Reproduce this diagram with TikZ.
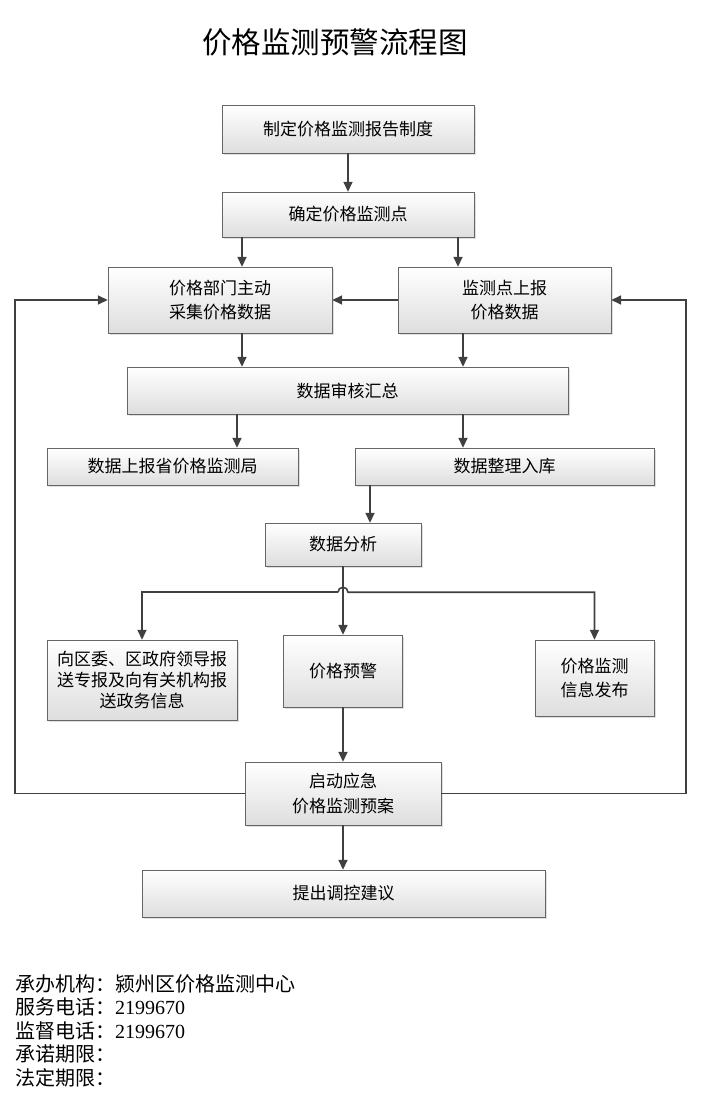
\documentclass[tikz,border=0pt]{standalone}
\usepackage{fontspec}
\setmainfont{Liberation Serif}
\newfontfamily\cjk{Noto Sans CJK SC}
\usepackage{tikz}
\usetikzlibrary{positioning,arrows.meta,shadows,calc}

\begin{document}
\begin{tikzpicture}[
    x=1pt, y=-1pt,
    flow_box/.style={draw=black!60, top color=white, bottom color=black!13, inner sep=0pt,
        align=center, font=\cjk\fontsize{17}{24.5}\selectfont,
        drop shadow={shadow xshift=1.5pt, shadow yshift=-1.5pt, opacity=0.25}},
    arrow/.style={-{Triangle[length=10pt,width=9pt]}, line width=1.6pt, draw=black!75}
]
\useasboundingbox (0,0) rectangle (702,1098);

% Title
\node (title) at (335,42) {\cjk\fontsize{29.5}{31}\selectfont 价格监测预警流程图};

% Nodes
\node (plan) [flow_box, minimum width=252pt, minimum height=48pt] at (348,129) {制定价格监测报告制度};
\node (point) [flow_box, minimum width=252pt, minimum height=45pt] at (348,214.5) {确定价格监测点};
\node (collect) [flow_box, minimum width=224pt, minimum height=66pt] at (220,300) {价格部门主动\\采集价格数据};
\node (report) [flow_box, minimum width=213pt, minimum height=66pt] at (504.5,300) {监测点上报\\价格数据};
\node (audit) [flow_box, minimum width=441pt, minimum height=47pt] at (347.5,390.5) {数据审核汇总};
\node (upload) [flow_box, minimum width=251pt, minimum height=37pt] at (172.5,466.5) {数据上报省价格监测局};
\node (store) [flow_box, minimum width=299pt, minimum height=37pt] at (504.5,466.5) {数据整理入库};
\node (analysis) [flow_box, minimum width=156pt, minimum height=43pt] at (343,544.5) {数据分析};
\node (inform) [flow_box, minimum width=190pt, minimum height=80pt, font=\cjk\fontsize{17}{21}\selectfont] at (142,680) {向区委、区政府领导报\\送专报及向有关机构报\\送政务信息};
\node (warn) [flow_box, minimum width=119pt, minimum height=72pt] at (343,671) {价格预警};
\node (publish) [flow_box, minimum width=119pt, minimum height=76pt] at (594.5,678) {价格监测\\信息发布};
\node (emerg) [flow_box, minimum width=196pt, minimum height=63pt] at (343,793.5) {启动应急\\价格监测预案};
\node (advise) [flow_box, minimum width=403pt, minimum height=47pt] at (343.5,893.5) {提出调控建议};

% Footer
\node (info) [anchor=north west, align=left, inner sep=0pt, font=\cjk\fontsize{20}{23.5}\selectfont] at (15,974)
  {承办机构：颍州区价格监测中心\\服务电话：{\rmfamily 2199670}\\监督电话：{\rmfamily 2199670}\\承诺期限：\\法定期限：};

% Helper coordinates
\coordinate (lbus) at (15,0);
\coordinate (rbus) at (686,0);
\coordinate (fork) at ([yshift=-26pt]analysis.south);

% Connections
\draw [arrow] (plan.south) -- (point.north);
\draw [arrow] ([xshift=22pt]collect.north |- point.south) -- ([xshift=22pt]collect.north);
\draw [arrow] ([xshift=-46.5pt]report.north |- point.south) -- ([xshift=-46.5pt]report.north);
\draw [arrow] (report.west) -- (collect.east);
\draw [arrow] ([xshift=22pt]collect.south) -- ([xshift=22pt]collect.south |- audit.north);
\draw [arrow] ([xshift=-41.5pt]report.south) -- ([xshift=-41.5pt]report.south |- audit.north);
\draw [arrow] ([xshift=64.5pt]upload.north |- audit.south) -- ([xshift=64.5pt]upload.north);
\draw [arrow] ([xshift=-41.5pt]store.north |- audit.south) -- ([xshift=-41.5pt]store.north);
\draw [arrow] ([xshift=-134.5pt]store.south) -- ([xshift=27pt]analysis.north);
\draw [arrow] (analysis.south) -- (analysis.south |- warn.north);
\draw [arrow] ([xshift=-5pt]fork) -- (inform.north |- fork) -- (inform.north);
\draw [arrow] ([xshift=-5pt]fork) arc[start angle=180, end angle=0, radius=5pt] -- (publish.north |- fork) -- (publish.north);
\draw [arrow] (warn.south) -- (warn.south |- emerg.north);
\draw [arrow] (emerg.south) -- (emerg.south |- advise.north);
\draw [arrow] (emerg.west) -- (emerg.west -| lbus) |- (collect.west);
\draw [arrow] (emerg.east) -- (emerg.east -| rbus) |- (report.east);

\end{tikzpicture}
\end{document}
